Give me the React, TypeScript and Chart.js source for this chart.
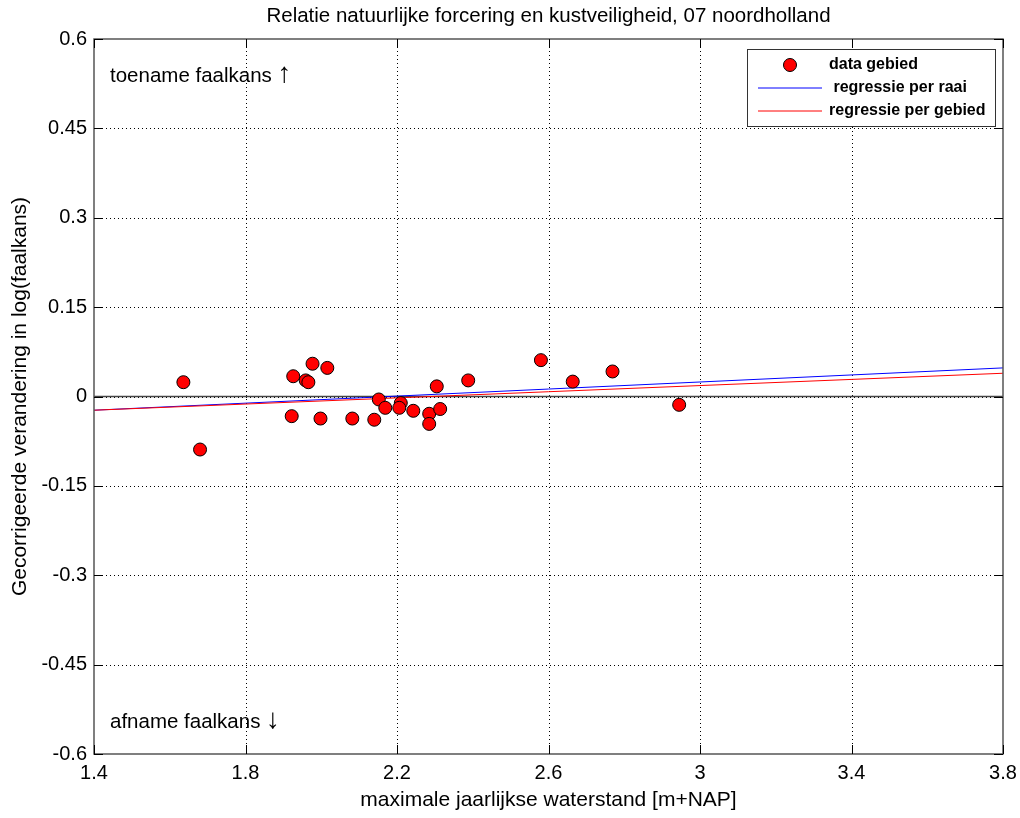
import React, { useEffect, useRef } from "react";
import { Chart, registerables } from "chart.js";

Chart.register(...registerables);

const titleText = "Relatie natuurlijke forcering en kustveiligheid, 07 noordholland";
const xAxisTitle = "maximale jaarlijkse waterstand [m+NAP]";
const yAxisTitle = "Gecorrigeerde verandering in log(faalkans)";
const upText = "toename faalkans ";
const downText = "afname faalkans ";

const xTicks = [1.4, 1.8, 2.2, 2.6, 3.0, 3.4, 3.8];
const xTickLabels = ["1.4", "1.8", "2.2", "2.6", "3", "3.4", "3.8"];
const yTicks = [-0.6, -0.45, -0.3, -0.15, 0, 0.15, 0.3, 0.45, 0.6];
const yTickLabels = ["-0.6", "-0.45", "-0.3", "-0.15", "0", "0.15", "0.3", "0.45", "0.6"];

const dataX = [1.636, 1.680, 1.926, 1.977, 2.016, 1.959, 1.966, 1.922, 1.998, 2.082, 2.140, 2.152, 2.169, 2.210, 2.206, 2.243, 2.285, 2.285, 2.314, 2.305, 2.388, 2.580, 2.664, 2.769, 2.945];
const dataY = [0.024, -0.089, 0.034, 0.055, 0.048, 0.027, 0.024, -0.033, -0.037, -0.037, -0.039, -0.005, -0.019, -0.011, -0.019, -0.024, -0.029, -0.046, -0.021, 0.017, 0.027, 0.061, 0.025, 0.042, -0.014];

const raaiX = [1.4, 3.8];
const raaiY = [-0.023, 0.048];
const gebiedX = [1.4, 3.8];
const gebiedY = [-0.023, 0.039];

const legendLabels = ["data gebied", " regressie per raai", "regressie per gebied"];

const textFont = '"Liberation Sans", Arial, sans-serif';

const decorPlugin = {
  id: "decor",
  beforeDatasetsDraw(chart: any) {
    const { ctx, chartArea: a, scales } = chart;
    const xs = scales.x;
    const ys = scales.y;
    ctx.save();
    ctx.strokeStyle = "#000";
    ctx.lineWidth = 1;
    ctx.setLineDash([1, 3]);
    xTicks.forEach((v) => {
      const px = Math.round(xs.getPixelForValue(v)) + 0.5;
      if (px <= a.left + 1 || px >= a.right - 1) return;
      ctx.beginPath();
      ctx.moveTo(px, a.top);
      ctx.lineTo(px, a.bottom);
      ctx.stroke();
    });
    yTicks.forEach((v) => {
      const py = Math.round(ys.getPixelForValue(v)) + 0.5;
      if (py <= a.top + 1 || py >= a.bottom - 1) return;
      ctx.beginPath();
      ctx.moveTo(a.left, py);
      ctx.lineTo(a.right, py);
      ctx.stroke();
    });
    ctx.setLineDash([]);
    const zy = ys.getPixelForValue(0);
    ctx.strokeStyle = "#444";
    ctx.lineWidth = 1.5;
    ctx.beginPath();
    ctx.moveTo(a.left, zy);
    ctx.lineTo(a.right, zy);
    ctx.stroke();
    ctx.restore();
  },
  afterDatasetsDraw(chart: any) {
    const { ctx, chartArea: a, scales } = chart;
    const xs = scales.x;
    const ys = scales.y;
    ctx.save();
    ctx.strokeStyle = "#555";
    ctx.lineWidth = 1.5;
    ctx.strokeRect(a.left, a.top, a.right - a.left, a.bottom - a.top);
    ctx.strokeStyle = "#000";
    ctx.lineWidth = 1;
    const tl = 9;
    xTicks.forEach((v) => {
      const px = Math.round(xs.getPixelForValue(v)) + 0.5;
      ctx.beginPath();
      ctx.moveTo(px, a.bottom);
      ctx.lineTo(px, a.bottom - tl);
      ctx.moveTo(px, a.top);
      ctx.lineTo(px, a.top + tl);
      ctx.stroke();
    });
    yTicks.forEach((v) => {
      const py = Math.round(ys.getPixelForValue(v)) + 0.5;
      ctx.beginPath();
      ctx.moveTo(a.left, py);
      ctx.lineTo(a.left + tl, py);
      ctx.moveTo(a.right, py);
      ctx.lineTo(a.right - tl, py);
      ctx.stroke();
    });

    ctx.fillStyle = "#000";
    ctx.textBaseline = "middle";
    ctx.textAlign = "center";
    ctx.font = `20.5px ${textFont}`;
    ctx.fillText(titleText, (a.left + a.right) / 2, 16);
    ctx.font = `21px ${textFont}`;
    ctx.fillText(xAxisTitle, (a.left + a.right) / 2, 800);
    ctx.save();
    ctx.translate(20, (a.top + a.bottom) / 2);
    ctx.rotate(-Math.PI / 2);
    ctx.fillText(yAxisTitle, 0, 0);
    ctx.restore();

    ctx.textAlign = "left";
    ctx.textBaseline = "alphabetic";
    ctx.font = `20.5px ${textFont}`;
    const upW = ctx.measureText(upText).width;
    ctx.fillText(upText, 110, 82);
    const downW = ctx.measureText(downText).width;
    ctx.fillText(downText, 110, 728);
    ctx.font = `28px ${textFont}`;
    ctx.fillText("\u2191", 110 + upW, 82);
    ctx.fillText("\u2193", 110 + downW, 728);

    ctx.textBaseline = "middle";
    const lx = 747, ly = 49, lw = 248, lh = 77;
    ctx.fillStyle = "#fff";
    ctx.fillRect(lx, ly, lw, lh);
    ctx.strokeStyle = "#333";
    ctx.lineWidth = 1;
    ctx.strokeRect(lx + 0.5, ly + 0.5, lw, lh);
    ctx.beginPath();
    ctx.arc(790, 65, 6.5, 0, Math.PI * 2);
    ctx.fillStyle = "#ff0000";
    ctx.fill();
    ctx.strokeStyle = "#000";
    ctx.stroke();
    ctx.lineWidth = 1;
    ctx.strokeStyle = "#0000ff";
    ctx.beginPath();
    ctx.moveTo(758, 88);
    ctx.lineTo(822, 88);
    ctx.stroke();
    ctx.strokeStyle = "#ff0000";
    ctx.beginPath();
    ctx.moveTo(758, 111);
    ctx.lineTo(822, 111);
    ctx.stroke();
    ctx.fillStyle = "#000";
    ctx.font = `bold 16px ${textFont}`;
    ctx.fillText(legendLabels[0], 829, 65);
    ctx.fillText(legendLabels[1], 829, 88);
    ctx.fillText(legendLabels[2], 829, 111);
    ctx.restore();
  },
};

export default function App() {
  const ref = useRef<HTMLCanvasElement>(null);
  useEffect(() => {
    if (!ref.current) return;
    const chart = new Chart(ref.current, {
      type: "scatter",
      data: {
        datasets: [
          {
            label: "regressie per raai",
            type: "line",
            data: raaiX.map((x, i) => ({ x, y: raaiY[i] })),
            borderColor: "#0000ff",
            borderWidth: 1,
            pointRadius: 0,
            fill: false,
            order: 2,
          },
          {
            label: "regressie per gebied",
            type: "line",
            data: gebiedX.map((x, i) => ({ x, y: gebiedY[i] })),
            borderColor: "#ff0000",
            borderWidth: 1,
            pointRadius: 0,
            fill: false,
            order: 1,
          },
          {
            label: "data gebied",
            data: dataX.map((x, i) => ({ x, y: dataY[i] })),
            backgroundColor: "#ff0000",
            borderColor: "#000",
            borderWidth: 1,
            pointRadius: 6.5,
            order: 0,
          },
        ],
      },
      options: {
        animation: false,
        responsive: false,
        layout: { padding: { left: 0, top: 39, right: 17, bottom: 0 } },
        plugins: { legend: { display: false }, tooltip: { enabled: false }, title: { display: false } },
        scales: {
          x: {
            type: "linear",
            min: 1.4,
            max: 3.8,
            grid: { display: false, drawTicks: false },
            border: { display: false },
            afterBuildTicks: (s: any) => {
              s.ticks = xTicks.map((v) => ({ value: v }));
            },
            afterFit: (s: any) => {
              s.height = 64;
              s.paddingRight = 0;
              s.paddingLeft = 0;
            },
            ticks: {
              autoSkip: false,
              maxRotation: 0,
              color: "#000",
              padding: 7,
              font: { size: 20, family: textFont },
              callback: (_v: any, i: number) => xTickLabels[i],
            },
          },
          y: {
            type: "linear",
            min: -0.6,
            max: 0.6,
            grid: { display: false, drawTicks: false },
            border: { display: false },
            afterBuildTicks: (s: any) => {
              s.ticks = yTicks.map((v) => ({ value: v }));
            },
            afterFit: (s: any) => {
              s.width = 94;
              s.paddingTop = 0;
              s.paddingBottom = 0;
            },
            ticks: {
              autoSkip: false,
              color: "#000",
              padding: 7,
              font: { size: 20, family: textFont },
              callback: (_v: any, i: number) => yTickLabels[i],
            },
          },
        },
      },
      plugins: [decorPlugin],
    });
    return () => chart.destroy();
  }, []);
  return (
    <div style={{ position: "fixed", left: 0, top: 0, width: 1020, height: 818, background: "#fff" }}>
      <canvas ref={ref} width={1020} height={818} style={{ display: "block" }} />
    </div>
  );
}
